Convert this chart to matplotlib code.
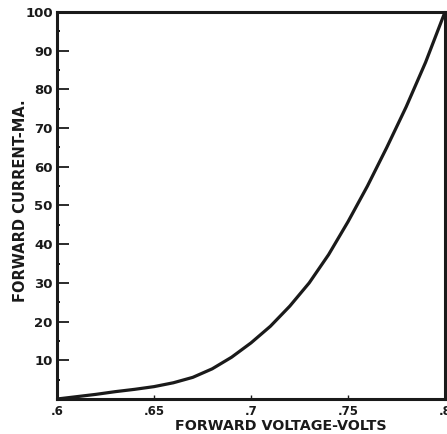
import matplotlib
matplotlib.use("Agg")
import matplotlib.pyplot as plt
from matplotlib.ticker import MultipleLocator

# forward voltage (V) vs forward current (mA)
voltage = [0.60, 0.61, 0.62, 0.63, 0.64, 0.65, 0.66, 0.67, 0.68, 0.69, 0.70,
           0.71, 0.72, 0.73, 0.74, 0.75, 0.76, 0.77, 0.78, 0.79, 0.80]
current = [0.0, 0.6, 1.2, 1.9, 2.5, 3.2, 4.2, 5.6, 7.8, 10.8, 14.5,
           18.8, 24.0, 30.0, 37.3, 45.8, 55.0, 65.0, 75.5, 87.0, 100.0]

x_ticks = [0.6, 0.65, 0.7, 0.75, 0.8]
x_labels = [".6", ".65", ".7", ".75", ".8"]
y_ticks = [10, 20, 30, 40, 50, 60, 70, 80, 90, 100]
y_labels = ["10", "20", "30", "40", "50", "60", "70", "80", "90", "100"]

ink = "#1a1a1a"
plt.rcParams["font.family"] = ["DejaVu Sans"]
plt.rcParams["font.weight"] = "bold"

fig = plt.figure(figsize=(4.47, 4.34), dpi=100)
ax = fig.add_axes([0.1275, 0.0806, 0.868, 0.8918])

ax.plot(voltage, current, color=ink, lw=2.3, solid_capstyle="round",
        solid_joinstyle="round")

ax.set_xlim(0.6, 0.8)
ax.set_ylim(0, 100)

ax.set_xticks(x_ticks)
ax.set_xticklabels(x_labels)
ax.set_yticks(y_ticks)
ax.set_yticklabels(y_labels)
ax.yaxis.set_minor_locator(MultipleLocator(5))

ax.tick_params(axis="y", which="major", direction="in", length=8.5, width=1.3,
               pad=3, labelsize=9.5, colors=ink)
ax.tick_params(axis="y", which="minor", direction="in", length=2.5, width=1.3)
ax.tick_params(axis="x", which="major", direction="in", length=3, width=1.0,
               pad=4, labelsize=8.5, colors=ink)

for s in ax.spines.values():
    s.set_linewidth(2.2)
    s.set_color(ink)

ax.set_xlabel("FORWARD VOLTAGE-VOLTS", fontsize=10.3, fontweight="bold",
              color=ink, va="center", ha="center")
ax.xaxis.set_label_coords(0.577, -0.07)
ax.set_ylabel("FORWARD CURRENT-MA.", fontsize=10.5, fontweight="bold",
              color=ink, va="center", ha="center")
ax.yaxis.set_label_coords(-0.093, 0.512)

fig.savefig("out.png", dpi=100)
